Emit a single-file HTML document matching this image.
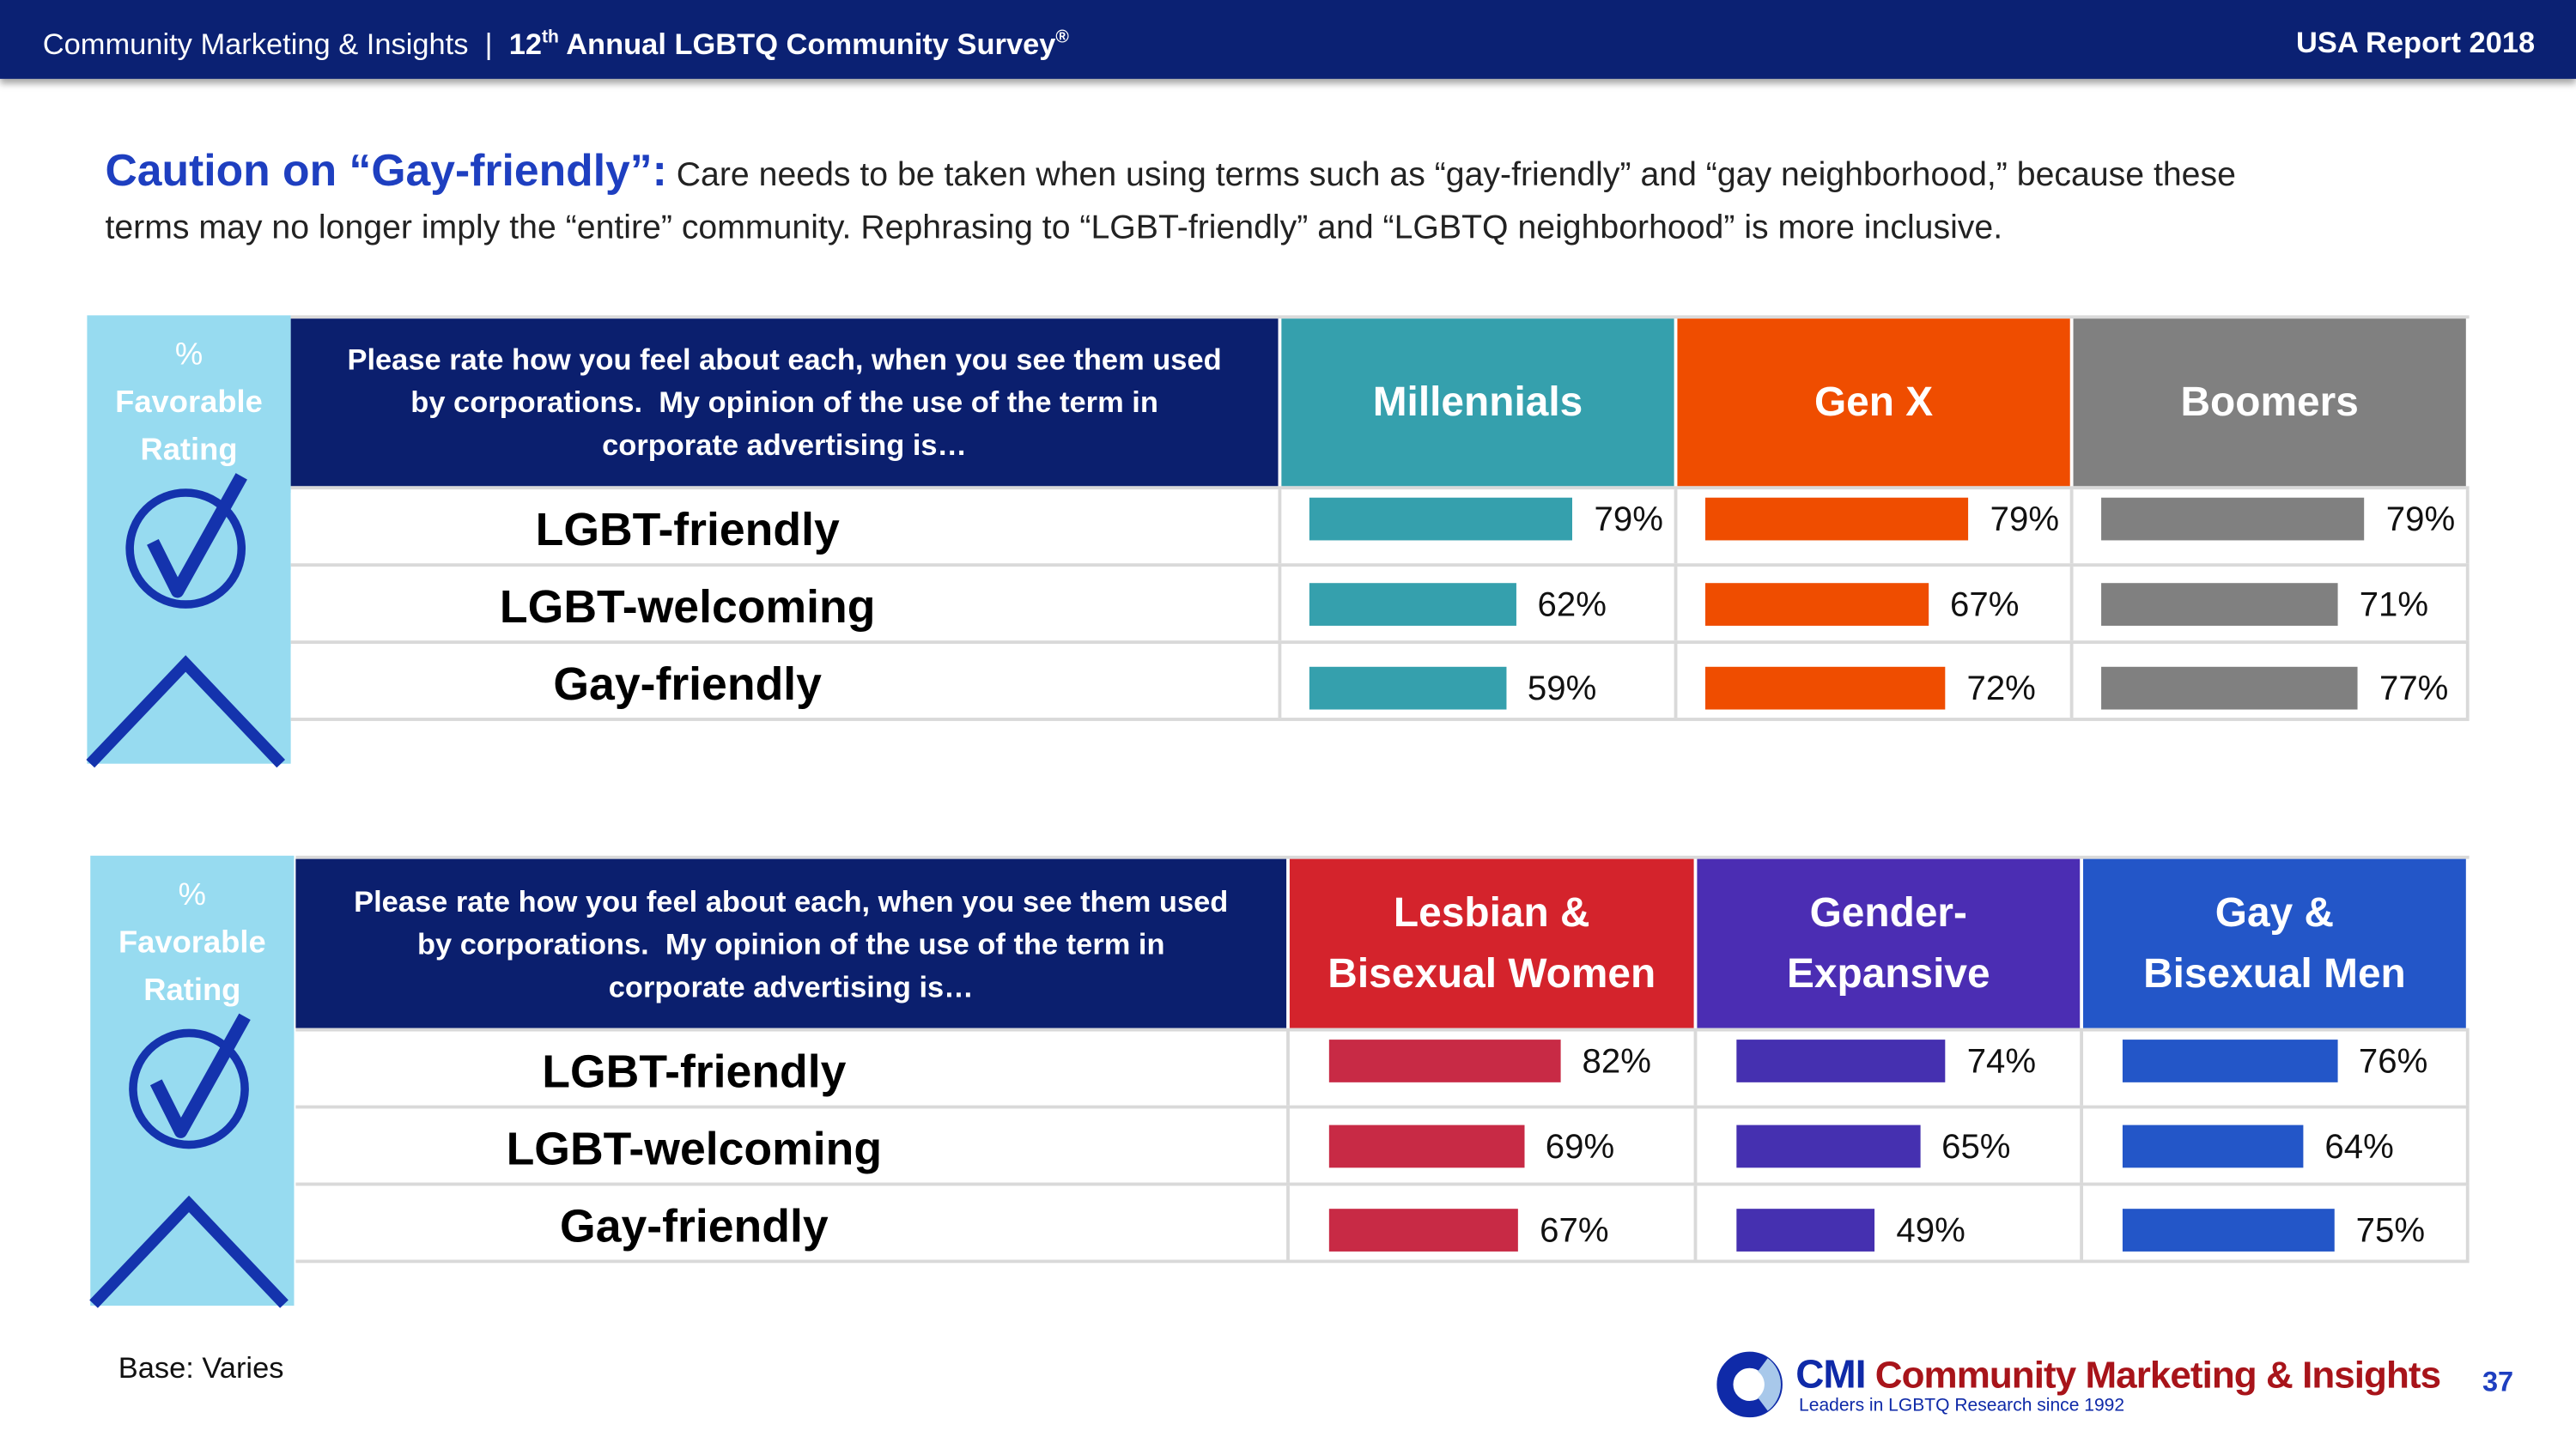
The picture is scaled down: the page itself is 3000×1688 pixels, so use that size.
<!DOCTYPE html>
<html><head><meta charset="utf-8">
<style>
html,body{margin:0;padding:0;background:#fff;}
body{width:3000px;height:1688px;overflow:hidden;font-family:"Liberation Sans",sans-serif;}
#stage{position:absolute;left:0;top:0;width:1568px;height:882.3px;transform:scale(1.91327);transform-origin:0 0;}
.abs{position:absolute;}
.hdr{left:0;top:0;width:1568px;height:48px;background:#0b2173;box-shadow:0 3px 4px rgba(0,0,0,.35);color:#fff;}
.cell{position:absolute;box-sizing:border-box;display:flex;align-items:center;justify-content:center;text-align:center;}
.q{color:#fff;font-weight:bold;font-size:18px;line-height:26px;background:#0b1f6e;padding:0 34px;}
.gh{color:#fff;font-weight:bold;font-size:25px;line-height:37px;}
.lab{font-weight:bold;font-size:28px;color:#000;background:#fff;}
.val{position:absolute;font-size:21px;color:#111;}
.bar{position:absolute;height:26px;}
.hl{position:absolute;background:#d9d9d9;}
</style></head>
<body>
<div id="stage">
  <div class="abs hdr">
    <div class="abs" style="left:26px;top:17px;font-size:18px;">Community Marketing &amp; Insights &nbsp;| &nbsp;<b>12<sup style="font-size:11px">th</sup> Annual LGBTQ Community Survey<sup style="font-size:11px">®</sup></b></div>
    <div class="abs" style="right:25px;top:16px;font-size:18px;font-weight:bold;">USA Report 2018</div>
  </div>
  <div class="abs" style="left:64px;top:88px;width:1340px;font-size:20.5px;line-height:32px;color:#222;"><span style="color:#1e3fc0;font-weight:bold;font-size:27px;">Caution on “Gay-friendly”:</span> Care needs to be taken when using terms such as “gay-friendly” and “gay neighborhood,” because these terms may no longer imply the “entire” community. Rephrasing to “LGBT-friendly” and “LGBTQ neighborhood” is more inclusive.</div>
  <div id="t1"></div>
  <div id="t2"></div>
  <div class="abs" style="left:72px;top:823px;font-size:18px;color:#111;">Base: Varies</div>
  <svg class="abs" style="left:1043px;top:820px" width="46" height="46">
    <circle cx="22" cy="23" r="15" fill="none" stroke="#0f2aa8" stroke-width="10"/>
    <path d="M30 11 A15 15 0 0 1 30 35" fill="none" stroke="#a8c8ea" stroke-width="10"/>
  </svg>
  <div class="abs" style="left:1093px;top:824px;font-size:24px;font-weight:bold;white-space:nowrap;letter-spacing:-0.5px;"><span style="color:#0f2aa8">CMI</span><span style="color:#a8141a;font-size:23px;"> Community Marketing &amp; Insights</span></div>
  <div class="abs" style="left:1095px;top:850px;font-size:11px;color:#0f2aa8;">Leaders in LGBTQ Research since 1992</div>
  <div class="abs" style="left:1511px;top:832px;font-size:17px;font-weight:bold;color:#1e3fc0;">37</div>
</div>
<script>
const rowLabels = ["LGBT-friendly","LGBT-welcoming","Gay-friendly"];
const genGroups = ["Millennials","Gen X","Boomers"];
const genValues = [[79,62,59],[79,67,72],[79,71,77]];
const sexGroups = ["Lesbian &amp;<br>Bisexual Women","Gender-<br>Expansive","Gay &amp;<br>Bisexual Men"];
const sexValues = [[82,69,67],[74,65,49],[76,64,75]];

const question = "Please rate how you feel about each, when you see them used by corporations.&nbsp; My opinion of the use of the term in corporate advertising is…";

function build(root, cfg){
  const st = document.getElementById('stage');
  function mk(cls, name, css, html){
    const d = document.createElement('div');
    d.className = cls;
    
    
    Object.assign(d.style, css);
    if(html!==undefined) d.innerHTML = html;
    st.appendChild(d);
    return d;
  }
  mk('abs', 'favorable-ribbon', {left:cfg.rx+'px',top:cfg.top-2+'px',width:'124px',height:(cfg.ribbonH)+'px',background:'#97dbf0'});
  mk('abs', 'ribbon-label', {left:cfg.rx+'px',top:cfg.top+8+'px',width:'124px',textAlign:'center',color:'#fff',fontWeight:'bold',fontSize:'19px',lineHeight:'29px'}, '<span style="font-weight:normal">%</span><br>Favorable<br>Rating');
  const ns='http://www.w3.org/2000/svg';
  const svg = document.createElementNS(ns,'svg');
  
  
  svg.setAttribute('width','130');svg.setAttribute('height','290');
  svg.style.position='absolute';svg.style.left=(cfg.rx-3)+'px';svg.style.top=(cfg.top-2)+'px';svg.style.overflow='visible';
  svg.innerHTML='<ellipse cx="63" cy="142" rx="34" ry="34" fill="none" stroke="#1433ad" stroke-width="5"/>'+
    '<path d="M43 138 L58 168 L97 98" fill="none" stroke="#1433ad" stroke-width="8" stroke-linejoin="round"/>'+
    '<path d="M5 273 L63 212 L121 273" fill="none" stroke="#1433ad" stroke-width="7"/>';
  st.appendChild(svg);
  const T=cfg.top, H=cfg.headH;
  mk('hl','table-top-border',{left:cfg.qx+'px',top:(T-2)+'px',width:(1503-cfg.qx)+'px',height:'2px'});
  mk('cell q','question-cell',{left:cfg.qx+'px',top:T+'px',width:(cfg.cols[0]-cfg.qx-2)+'px',height:H+'px'},question);
  cfg.groups.forEach((g,i)=>{
    const x0=cfg.cols[i], x1=cfg.cols[i+1];
    const c = mk('cell gh','group-header-'+i,{left:x0+'px',top:T+'px',width:(x1-x0-2)+'px',height:H+'px',background:cfg.headColors[i]},g);
    
  });
  const rowH=45, gap=2;
  const barDy=[5,10,14];
  rowLabels.forEach((lab,r)=>{
    const y = T+H+gap + r*(rowH+gap);
    mk('hl','row-divider',{left:cfg.qx+'px',top:(y-gap)+'px',width:(1503-cfg.qx)+'px',height:gap+'px'});
    mk('cell lab','row-label',{left:cfg.qx+'px',top:(y+2)+'px',width:(cfg.cols[0]-cfg.qx)+'px',height:rowH+'px',justifyContent:'center',paddingRight:'120px'},lab);
    cfg.groups.forEach((g,i)=>{
      const x0=cfg.cols[i];
      mk('hl','col-divider',{left:(x0-2)+'px',top:y+'px',width:'2px',height:rowH+'px'});
      const v = cfg.values[i][r];
      const w = v*cfg.k;
      const by = y + barDy[r];
      const b = mk('bar','bar',{left:(x0+cfg.barOff)+'px',top:by+'px',width:w+'px',background:cfg.barColors[i]});
      
      const t = mk('val','bar-value',{left:(x0+cfg.barOff+w+13)+'px',top:(by+2)+'px'}, v+'%');
      
    });
    mk('hl','row-right-border',{left:'1501px',top:y+'px',width:'2px',height:rowH+'px'});
  });
  const yEnd = T+H+gap+3*(rowH+gap);
  mk('hl','table-bottom-border',{left:cfg.qx+'px',top:(yEnd-gap)+'px',width:(1503-cfg.qx)+'px',height:gap+'px'});
}
build(document.getElementById('t1'),{rx:53,qx:177,top:194,headH:102,ribbonH:273,
  cols:[780,1021,1262,1503],groups:genGroups,values:genValues,k:2.03,barOff:17,
  headColors:['#35a0ad','#ef4d00','#808080'],barColors:['#35a0ad','#ef4d00','#808080']});
build(document.getElementById('t2'),{rx:55,qx:180,top:523,headH:103,ribbonH:274,
  cols:[785,1033,1268,1503],groups:sexGroups,values:sexValues,k:1.72,barOff:24,
  headColors:['#d4232c','#4b2db3','#2356c8'],barColors:['#c82a45','#4530b0','#2356c8']});
</script>
</body></html>
